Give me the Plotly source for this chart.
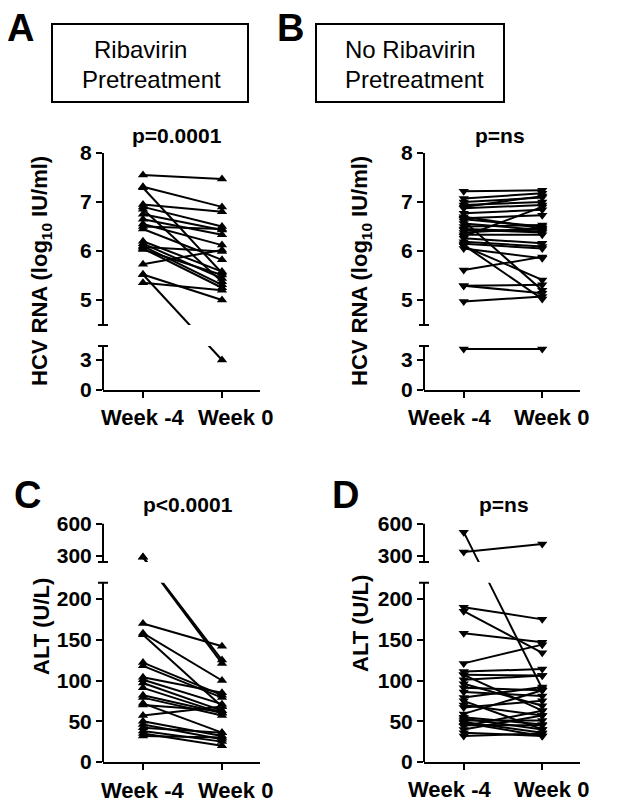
import plotly.graph_objects as go

# ---------------- data ----------------
weeks = ["Week -4", "Week 0"]

hcv_rib_wk4 = [7.55, 7.31, 7.29, 6.95, 6.90, 6.85, 6.75, 6.65, 6.55, 6.50, 6.45,
               6.20, 6.15, 6.10, 6.05, 6.03, 5.73, 5.52, 5.52, 5.35, 6.08]
hcv_rib_wk0 = [7.47, 6.90, 5.55, 6.80, 6.50, 5.37, 6.43, 6.33, 6.12, 6.45, 5.82,
               5.58, 5.44, 5.31, 5.25, 5.51, 6.02, 5.00, 3.00, 5.20, 5.99]

hcv_norib_wk4 = [7.22, 7.07, 7.00, 6.94, 6.87, 6.77, 6.70, 6.67, 6.61, 6.56, 6.50,
                 6.43, 6.38, 6.33, 6.26, 6.19, 6.12, 6.05, 6.10, 6.15, 5.61, 5.29,
                 5.29, 4.97, 6.65, 6.90, 6.45, 6.30, 4.10]
hcv_norib_wk0 = [7.24, 7.18, 7.09, 7.00, 6.94, 6.84, 6.46, 6.73, 5.20, 6.43, 6.53,
                 6.38, 6.46, 6.33, 6.16, 6.09, 5.02, 5.85, 5.41, 6.05, 5.88, 5.31,
                 5.14, 5.07, 6.50, 7.12, 6.40, 6.90, 4.10]

alt_rib_wk4 = [170, 158, 156, 122, 118, 104, 101, 97, 91, 82, 79, 72, 70, 57, 50,
               46, 42, 38, 35, 32, 291, 288]
alt_rib_wk0 = [142, 100, 68, 82, 79, 85, 71, 63, 60, 60, 57, 36, 63, 68, 32,
               28, 36, 25, 20, 30, 125, 121]

alt_norib_wk4 = [190, 185, 158, 121, 111, 107, 107, 101, 96, 91, 86, 79, 75, 70,
                 67, 59, 55, 51, 49, 44, 40, 36, 32, 53, 48, 45, 520, 337]
alt_norib_wk0 = [175, 134, 147, 144, 114, 106, 63, 106, 69, 88, 81, 92, 40, 57,
                 75, 88, 46, 51, 36, 63, 57, 32, 35, 40, 32, 45, 90, 411]

hcv_ticks = [0, 3, 5, 6, 7, 8]
alt_ticks = [0, 50, 100, 150, 200, 300, 600]

# ---------------- page geometry (body margin of 8px compensated) ----------------
OFF = 8
W, H = 608, 794
def px(x): return (x - OFF) / W
def py(y): return 1 - (y - OFF) / H

# ---------------- broken-axis scales ----------------
def t_hcv(v):
    return 10.0 * v if v <= 4.5 else 90.0 + 49.0 * (v - 5.0)

def t_alt(v):
    return 0.815 * v if v <= 230 else 206.0 + 0.1083 * (v - 300.0)

FONT = "Liberation Sans, Arial, sans-serif"

panels = [
    dict(wk4=hcv_rib_wk4, wk0=hcv_rib_wk0, f=t_hcv, ticks=hcv_ticks, sym="triangle-up",
         xl=103, xr=260, yt=153, yb=390, top=8, gap=(44, 65),
         ptxt="p=0.0001", px_=177, py_=135, wl=(142.5, 235), wy=418),
    dict(wk4=hcv_norib_wk4, wk0=hcv_norib_wk0, f=t_hcv, ticks=hcv_ticks, sym="triangle-down",
         xl=424, xr=580, yt=153, yb=390, top=8, gap=(44, 65),
         ptxt="p=ns", px_=500, py_=135, wl=(450, 551), wy=418),
    dict(wk4=alt_rib_wk4, wk0=alt_rib_wk0, f=t_alt, ticks=alt_ticks, sym="triangle-up",
         xl=103, xr=260, yt=523.5, yb=762, top=600, gap=(179.3, 200),
         ptxt="p<0.0001", px_=188, py_=505, wl=(142.5, 235), wy=790),
    dict(wk4=alt_norib_wk4, wk0=alt_norib_wk0, f=t_alt, ticks=alt_ticks, sym="triangle-down",
         xl=424, xr=580, yt=523.5, yb=762, top=600, gap=(179.3, 200),
         ptxt="p=ns", px_=504, py_=505, wl=(450, 551), wy=789),
]

fig = go.Figure()
shapes = []
annotations = []
layout = {}

for i, p in enumerate(panels):
    k = "" if i == 0 else str(i + 1)
    xs, ys = [], []
    for a, b in zip(p["wk4"], p["wk0"]):
        xs += [0, 1, None]
        ys += [p["f"](a), p["f"](b), None]
    fig.add_trace(go.Scatter(
        x=xs, y=ys, mode="lines+markers", xaxis="x" + k, yaxis="y" + k,
        line=dict(color="black", width=2),
        marker=dict(symbol=p["sym"], size=9, color="black"),
        showlegend=False, hoverinfo="skip", cliponaxis=False))
    ttop = p["f"](p["top"])
    layout["xaxis" + k] = dict(
        domain=[px(p["xl"]), px(p["xr"])], range=[-0.506, 1.481], anchor="y" + k,
        showline=True, linewidth=2, linecolor="black", ticks="outside", ticklen=6,
        tickwidth=2, tickcolor="black", tickvals=[0, 1], showticklabels=False,
        showgrid=False, zeroline=False, fixedrange=True, automargin=False)
    layout["yaxis" + k] = dict(
        domain=[py(p["yb"]), py(p["yt"])], range=[0, ttop], anchor="x" + k,
        showline=False, ticks="outside", ticklen=6, tickwidth=2, tickcolor="black",
        tickvals=[p["f"](v) for v in p["ticks"]], ticktext=[str(v) for v in p["ticks"]],
        tickfont=dict(family=FONT, size=21, color="black", weight="bold"),
        showgrid=False, zeroline=False, fixedrange=True, automargin=False)
    g0, g1 = p["gap"]
    # mask the break
    shapes.append(dict(type="rect", xref="x" + k, yref="y" + k, x0=-0.49, x1=1.6,
                       y0=g0, y1=g1, fillcolor="white", line=dict(width=0), layer="above"))
    ax = px(p["xl"])
    d = 5 / W
    for (s0, s1) in [(0, g0), (g1, ttop)]:
        shapes.append(dict(type="line", xref="paper", yref="y" + k, x0=ax, x1=ax,
                           y0=s0, y1=s1, line=dict(color="black", width=2), layer="above"))
    shapes.append(dict(type="line", xref="paper", yref="y" + k, x0=ax - d, x1=ax + d,
                       y0=g0, y1=g0, line=dict(color="black", width=2), layer="above"))
    shapes.append(dict(type="line", xref="paper", yref="y" + k, x0=ax - d, x1=ax + d,
                       y0=g1, y1=g1, line=dict(color="black", width=2), layer="above"))
    annotations.append(dict(text=p["ptxt"], x=px(p["px_"]), y=py(p["py_"]), xref="paper",
                            yref="paper", showarrow=False, xanchor="center", yanchor="middle",
                            font=dict(family=FONT, size=21, color="black", weight="bold")))
    for lbl, lx in zip(weeks, p["wl"]):
        annotations.append(dict(text=lbl, x=px(lx), y=py(p["wy"]), xref="paper",
                                yref="paper", showarrow=False, xanchor="center",
                                yanchor="middle",
                                font=dict(family=FONT, size=22, color="black", weight="bold")))

# axis titles
for (tx, ty, txt) in [(41, 271, "HCV RNA (log<sub>10</sub> IU/ml)"),
                      (361, 271, "HCV RNA (log<sub>10</sub> IU/ml)"),
                      (41, 627, "ALT (U/L)"), (360, 624, "ALT (U/L)")]:
    annotations.append(dict(text=txt, x=px(tx), y=py(ty), xref="paper", yref="paper",
                            showarrow=False, textangle=-90, xanchor="center", yanchor="middle",
                            font=dict(family=FONT, size=22, color="black", weight="bold")))

# panel letters
for (tx, ty, txt) in [(20, 28, "A"), (290, 28, "B"), (27, 495, "C"), (345, 495, "D")]:
    annotations.append(dict(text=txt, x=px(tx), y=py(ty), xref="paper", yref="paper",
                            showarrow=False, xanchor="center", yanchor="middle",
                            font=dict(family=FONT, size=38, color="black", weight="bold")))

# header boxes
for (x0, x1) in [(52, 248), (316, 504)]:
    shapes.append(dict(type="rect", xref="paper", yref="paper", x0=px(x0), x1=px(x1),
                       y0=py(102), y1=py(24), line=dict(color="black", width=2)))
for (tx, ty, txt) in [(140, 50, "Ribavirin"), (151, 80, "Pretreatment"),
                      (410, 50, "No Ribavirin"), (414, 80, "Pretreatment")]:
    annotations.append(dict(text=txt, x=px(tx), y=py(ty), xref="paper", yref="paper",
                            showarrow=False, xanchor="center", yanchor="middle",
                            font=dict(family=FONT, size=24, color="black")))

fig.update_layout(width=W, height=H,
                  margin=dict(l=0, r=0, t=0, b=0, pad=0, autoexpand=False),
                  plot_bgcolor="white", paper_bgcolor="white",
                  shapes=shapes, annotations=annotations, **layout)
fig.write_html("out.html")
